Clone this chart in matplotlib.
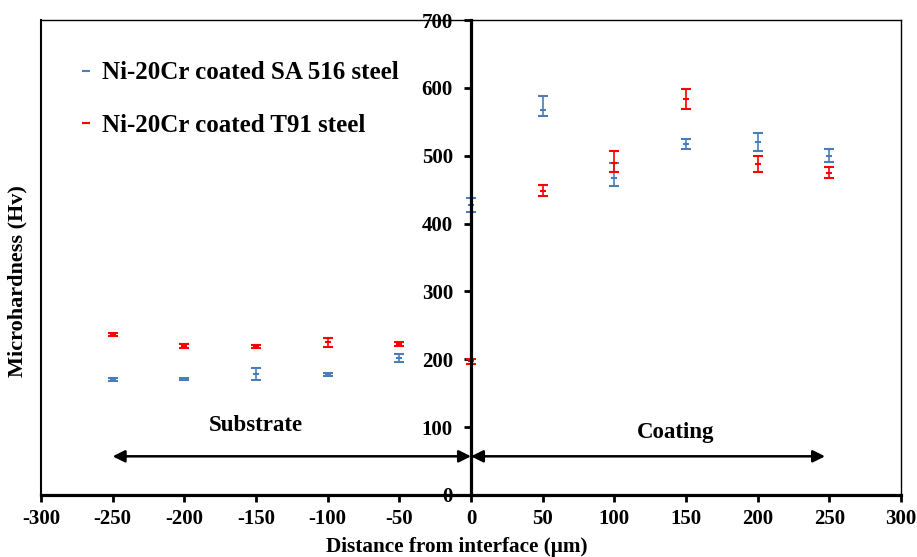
import matplotlib
matplotlib.use("Agg")
import matplotlib.pyplot as plt
from matplotlib.lines import Line2D

plt.rcParams['font.family'] = ['Liberation Serif', 'DejaVu Serif']
plt.rcParams['font.weight'] = 'bold'
plt.rcParams['axes.unicode_minus'] = False

distance = [-250, -200, -150, -100, -50, 0, 50, 100, 150, 200, 250]

sa516_hv = [170, 171, 178, 178, 202, 427, 568, 467, 517, 520, 500]
sa516_err_low = [2, 2, 9, 2, 6, 10, 10, 12, 7, 13, 9]
sa516_err_high = [2, 2, 9, 2, 6, 10, 20, 23, 8, 14, 10]

t91_hv = [237, 219, 219, 225, 222, 197, 448, 490, 584, 488, 474]
t91_err_low = [2, 3, 2, 7, 3, 4, 7, 14, 15, 12, 7]
t91_err_high = [2, 3, 2, 7, 3, 4, 9, 17, 15, 12, 10]

series_labels = ["Ni-20Cr coated SA 516 steel", "Ni-20Cr coated T91 steel"]
x_ticks = [-300, -250, -200, -150, -100, -50, 0, 50, 100, 150, 200, 250, 300]
y_ticks = [0, 100, 200, 300, 400, 500, 600, 700]

blue = '#4a7ebb'
red = '#ff0000'

fig = plt.figure(figsize=(9.17, 5.57), dpi=100)
ax = fig.add_axes([41 / 917, 1 - 495 / 557, 860 / 917, 475 / 557])

for vals, lo, hi, col in [(sa516_hv, sa516_err_low, sa516_err_high, blue),
                          (t91_hv, t91_err_low, t91_err_high, red)]:
    ax.errorbar(distance, vals, yerr=[lo, hi], fmt='_', color=col,
                ecolor=col, elinewidth=1.2, capsize=3.5, capthick=1.2,
                markersize=5, markeredgewidth=1.5, linestyle='none')

ax.set_xlim(-300, 300)
ax.set_ylim(0, 700)
ax.set_xticks(x_ticks)
ax.set_yticks(y_ticks)

# y axis runs through the interface at x = 0
ax.spines['left'].set_position(('data', 0))
ax.spines['left'].set_linewidth(2.3)
ax.spines['bottom'].set_linewidth(2.3)
ax.spines['top'].set_linewidth(1.0)
ax.spines['right'].set_linewidth(1.0)
ax.axvline(-300, color='black', lw=1.5, clip_on=False)

ax.tick_params(axis='y', direction='out', length=5, width=2, pad=8, labelsize=15)
ax.tick_params(axis='x', direction='out', length=5, width=2, pad=5, labelsize=15)
for lbl in ax.get_xticklabels() + ax.get_yticklabels():
    lbl.set_fontweight('bold')

ax.set_xlabel("Distance from interface (\u03bcm)", fontsize=15.3, fontweight='bold')
ax.xaxis.set_label_coords(0.483, -0.088)
ax.text(-0.027, 0.45, "Microhardness (Hv)", transform=ax.transAxes, rotation=90,
        ha='center', va='center', fontsize=16, fontweight='bold')

# region arrows and labels
arrow_y = 57
arrow_props = dict(arrowstyle='<|-|>', color='black', lw=1.8,
                   mutation_scale=18, shrinkA=0, shrinkB=0)
ax.annotate('', xy=(-250, arrow_y), xytext=(0, arrow_y), arrowprops=arrow_props)
ax.annotate('', xy=(0, arrow_y), xytext=(247, arrow_y), arrowprops=arrow_props)
ax.text(-150, 103, "Substrate", ha='center', va='center', fontsize=16.5, fontweight='bold')
ax.text(143, 92, "Coating", ha='center', va='center', fontsize=16.5, fontweight='bold')

handles = [Line2D([], [], color=blue, marker='_', linestyle='none', markersize=6, markeredgewidth=1.5),
           Line2D([], [], color=red, marker='_', linestyle='none', markersize=6, markeredgewidth=1.5)]
leg = ax.legend(handles, series_labels, loc='upper left', bbox_to_anchor=(0.045, 0.913),
                frameon=False, handlelength=0.5, handletextpad=0.4,
                labelspacing=1.18, borderpad=0, borderaxespad=0,
                prop={'weight': 'bold', 'size': 18})

fig.savefig("out.png", dpi=100)
